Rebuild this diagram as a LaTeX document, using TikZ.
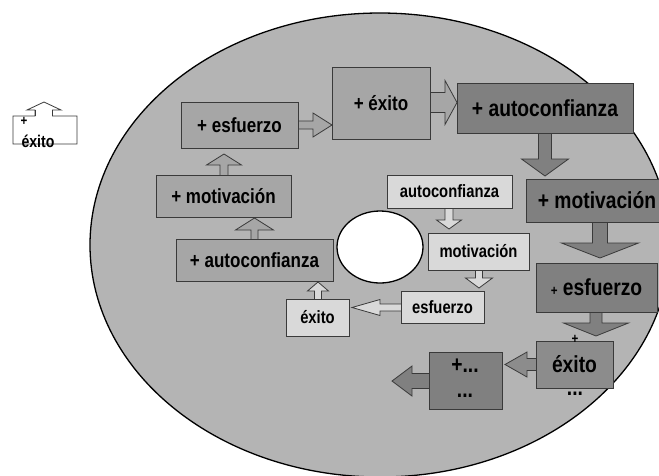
\documentclass[tikz,border=0pt]{standalone}
\usepackage{fontspec}
\setmainfont{Liberation Sans}[FakeStretch=0.83]
\definecolor{bgE}{HTML}{B4B4B4}
\definecolor{medF}{HTML}{A6A6A6}
\definecolor{darkF}{HTML}{808080}
\definecolor{dark2F}{HTML}{8C8C8C}
\definecolor{lightF}{HTML}{D9D9D9}
\definecolor{edgeC}{HTML}{3A3A3A}
\newcommand\varrow[7]{%
  \filldraw[arr,#1] (#2-#6,#3) -- (#2-#6,#4) -- (#2-#7,#4) -- (#2,#5) -- (#2+#7,#4) -- (#2+#6,#4) -- (#2+#6,#3);}
\newcommand\harrow[7]{%
  \filldraw[arr,#1] (#3,#2-#6) -- (#4,#2-#6) -- (#4,#2-#7) -- (#5,#2) -- (#4,#2+#7) -- (#4,#2+#6) -- (#3,#2+#6);}
\tikzset{
  arr/.style={draw=edgeC, line width=0.8pt, line join=miter},
  boxbase/.style={draw=edgeC, line width=0.8pt, inner sep=0pt, font=\bfseries},
  medbox/.style={boxbase, fill=medF, font=\bfseries\fontsize{20.5}{23}\selectfont},
  darkbox/.style={boxbase, fill=darkF, font=\bfseries\fontsize{23.2}{26}\selectfont},
  lightbox/.style={boxbase, fill=lightF, font=\bfseries\fontsize{17.8}{20}\selectfont},
  bigtxt/.style={font=\bfseries\fontsize{23.2}{26}\selectfont, inner sep=0pt},
  smalltxt/.style={font=\bfseries\fontsize{14}{16}\selectfont, inner sep=0pt},
}
\begin{document}
\begin{tikzpicture}[x=1pt,y=-1pt]
\useasboundingbox (0,0) rectangle (659,475);
% big disc and hole
\filldraw[fill=bgE, draw=black, line width=1.3pt] (380,245) ellipse [x radius=290, y radius=232];
\filldraw[fill=white, draw=black, line width=1.3pt] (380,247) ellipse [x radius=43, y radius=36];

% legend
\filldraw[fill=white, draw=edgeC, line width=0.8pt] (35,116) -- (13,116) -- (13,144) -- (77,144) -- (77,116) -- (52,116) -- (52,110) -- (61,110) -- (44,102) -- (27,110) -- (35,110) -- cycle;
\fill[white] (35.5,109) rectangle (51.5,117);
\draw[edgeC, line width=0.8pt] (35,116) -- (35,110) (52,116) -- (52,110);
\node[smalltxt] (lgplus) at (24,121) {+};
\node[font=\bfseries\fontsize{17}{19}\selectfont, inner sep=0pt] (lgtxt) at (38,141) {éxito};

% arrows
\harrow{fill=medF}{125}{298}{313}{332}{4}{12}
\harrow{fill=medF}{102.5}{430}{445}{457}{10}{22}
\varrow{fill=darkF}{545}{133}{159}{176}{6.5}{23.5}
\varrow{fill=darkF}{600}{222}{243}{258}{7.5}{38.5}
\varrow{fill=darkF}{596}{312}{323}{336}{6}{32.5}
\harrow{fill=dark2F}{364.5}{536}{527}{505}{6}{12.5}
\harrow{fill=darkF}{381}{429}{412}{392}{7.5}{15}
\varrow{fill=medF}{224}{175}{165}{154}{4}{17.5}
\varrow{fill=medF}{254.5}{239}{230}{218}{3.5}{19}
\varrow{fill=lightF}{318}{299}{291}{282}{3.5}{10.5}
\harrow{fill=lightF}{307.5}{401}{380}{352}{3.5}{8}
\varrow{fill=lightF}{449}{208}{220}{229}{4}{12.5}
\varrow{fill=lightF}{479}{270}{278}{288}{3.5}{13.5}

% outer cycle
\node[medbox, minimum width=117, minimum height=46] (es1) at (239.5,125) {+ esfuerzo};
\node[medbox, minimum width=98, minimum height=72] (ex1) at (381,103) {+ éxito};
\node[darkbox, minimum width=176, minimum height=50] (au1) at (545,108) {+ autoconfianza};
\node[darkbox, minimum width=142, minimum height=43] (mo1) at (597,200.5) {+ motivación};
\node[darkbox, minimum width=121, minimum height=49] (es2) at (596.5,287.5) {{\fontsize{14}{16}\selectfont +} esfuerzo};
\node[darkbox, fill=dark2F, minimum width=77, minimum height=47] (ex2) at (574.5,364.5) {éxito};
\node[smalltxt] (ex2plus) at (575,339) {+};
\node[bigtxt] (ex2dots) at (575,394) {...};
\node[boxbase, fill=darkF, minimum width=73, minimum height=57] (pl) at (465.5,380.5) {};
\node[bigtxt] (pltxt) at (465,366) {+...};
\node[bigtxt] (pldots) at (465,396) {...};

% middle cycle
\node[medbox, minimum width=135, minimum height=42] (mo2) at (223.5,196) {+ motivación};
\node[medbox, minimum width=157, minimum height=42] (au2) at (254.5,260) {+ autoconfianza};

% inner cycle
\node[lightbox, minimum width=63, minimum height=37] (ex3) at (317.5,317.5) {éxito};
\node[lightbox, minimum width=83, minimum height=32] (es3) at (442.5,307) {esfuerzo};
\node[lightbox, minimum width=101, minimum height=37] (mo3) at (478.5,251.5) {motivación};
\node[lightbox, minimum width=125, minimum height=33] (au3) at (449.5,191.5) {autoconfianza};
\end{tikzpicture}
\end{document}
